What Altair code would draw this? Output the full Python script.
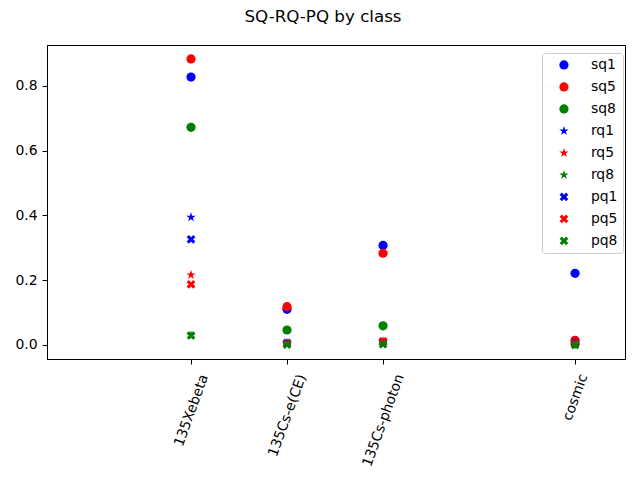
import altair as alt
import pandas as pd

categories = ["135Xebeta", "135Cs-e(CE)", "135Cs-photon", "cosmic"]
cat_pos = [0, 1, 2, 4]
label_pad = [46, 51, 56, 33]

series = ["sq1", "sq5", "sq8", "rq1", "rq5", "rq8", "pq1", "pq5", "pq8"]
colors = ["#0000ff", "#ff0000", "#008000"] * 3

STAR = ("M0,-1.08L0.2425,-0.334L1.027,-0.334L0.3924,0.127L0.6348,0.874L0,0.413"
        "L-0.6348,0.874L-0.3924,0.127L-1.027,-0.334L-0.2425,-0.334Z")
XFILL = ("M0.471,-0.943L0.943,-0.471L0.471,0L0.943,0.471L0.471,0.943L0,0.471"
         "L-0.471,0.943L-0.943,0.471L-0.471,0L-0.943,-0.471L-0.471,-0.943L0,-0.471Z")
shapes = ["circle"] * 3 + [STAR] * 3 + [XFILL] * 3

sq1 = [0.827, 0.110, 0.307, 0.221]
sq5 = [0.883, 0.118, 0.283, 0.014]
sq8 = [0.672, 0.046, 0.059, 0.003]
rq1 = [0.394, 0.007, 0.009, 0.008]
rq5 = [0.216, 0.004, 0.011, 0.006]
rq8 = [0.030, 0.001, 0.003, 0.001]
pq1 = [0.326, 0.006, 0.009, 0.007]
pq5 = [0.187, 0.004, 0.011, 0.005]
pq8 = [0.029, 0.001, 0.002, 0.000]
values = [sq1, sq5, sq8, rq1, rq5, rq8, pq1, pq5, pq8]

rows = []
k = 0
for s, vals in zip(series, values):
    for c, p, v in zip(categories, cat_pos, vals):
        rows.append({"series": s, "cls": c, "pos": p, "value": v, "k": k})
        k += 1
df = pd.DataFrame(rows)

label_expr = " : ".join(
    f"datum.value == {p} ? '{c}'" for p, c in zip(cat_pos[:-1], categories[:-1])
) + f" : '{categories[-1]}'"
pad_expr = " : ".join(
    f"datum.value == {p} ? {lp}" for p, lp in zip(cat_pos[:-1], label_pad[:-1])
) + f" : {label_pad[-1]}"

legend = alt.Legend(
    title=None, orient="none", legendX=495, legendY=8,
    symbolSize=85, symbolStrokeWidth=0, symbolOpacity=1,
    labelFontSize=13.9, labelColor="black", labelFont="DejaVu Sans",
    fillColor="white", strokeColor="#cccccc", cornerRadius=3, padding=5,
    rowPadding=7, symbolOffset=10, labelOffset=20,
)

chart = alt.Chart(df).mark_point(filled=True, size=85, opacity=1).encode(
    x=alt.X("pos:Q",
            scale=alt.Scale(domain=[-1.5, 4.52], nice=False, zero=False),
            axis=alt.Axis(values=cat_pos, labelExpr=label_expr, labelAngle=-70,
                          labelAlign="center", labelBaseline="middle",
                          labelPadding={"expr": pad_expr},
                          title=None, grid=False)),
    y=alt.Y("value:Q",
            scale=alt.Scale(domain=[-0.0435, 0.926], nice=False, zero=False),
            axis=alt.Axis(values=[0, 0.2, 0.4, 0.6, 0.8], format=".1f",
                          title=None, grid=False, labelPadding=5)),
    color=alt.Color("series:N", scale=alt.Scale(domain=series, range=colors), legend=legend),
    shape=alt.Shape("series:N", scale=alt.Scale(domain=series, range=shapes), legend=legend),
    order=alt.Order("k:Q"),
).properties(
    width=578, height=314,
    autosize=alt.AutoSizeParams(type="none"),
    padding={"left": 39, "top": 37, "right": 7, "bottom": 113},
    title=alt.TitleParams("SQ-RQ-PQ by class", fontSize=16.7, font="DejaVu Sans",
                          fontWeight="normal", color="black", anchor="middle",
                          dx=-13, offset=6, baseline="alphabetic", frame="group"),
).configure(
    font="DejaVu Sans",
).configure_view(
    stroke="black", strokeWidth=1,
).configure_axis(
    domainColor="black", tickColor="black", labelColor="black",
    labelFontSize=13.9, labelFont="DejaVu Sans", tickSize=5, domainWidth=1,
    tickWidth=1,
)

chart.save("out.html", embed_options={"renderer": "svg", "actions": False})
